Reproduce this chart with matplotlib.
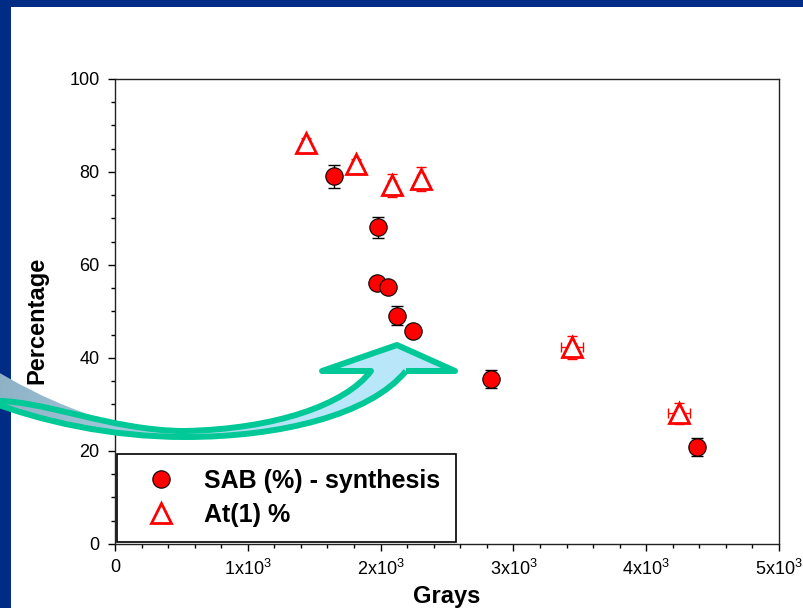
import numpy as np
import matplotlib.pyplot as plt
from matplotlib.path import Path
from matplotlib.patches import PathPatch, Rectangle
from matplotlib.colors import LinearSegmentedColormap
from matplotlib.ticker import MultipleLocator

plt.rcParams['font.family'] = 'Liberation Sans'
plt.rcParams['mathtext.fontset'] = 'custom'
plt.rcParams['mathtext.rm'] = 'Liberation Sans'
plt.rcParams['mathtext.it'] = 'Liberation Sans:italic'
plt.rcParams['mathtext.bf'] = 'Liberation Sans:bold'

# SAB (%) - synthesis
sab_x = [1650, 1980, 1975, 2056, 2126, 2242, 2831, 4385]
sab_y = [79.1, 68.1, 56.2, 55.3, 49.1, 45.8, 35.5, 20.9]
sab_err = [2.5, 2.2, 1.2, 1.2, 2.0, 1.2, 1.95, 1.9]

# At(1) %
at_x = [1438, 1815, 2084, 2304, 3443, 4249]
at_y = [86.3, 81.7, 77.1, 78.5, 42.3, 28.1]
at_yerr = [1.0, 1.0, 2.4, 2.5, 2.5, 2.2]
at_xerr = [30, 30, 30, 30, 82, 82]

xticks = [0, 1000, 2000, 3000, 4000, 5000]
xlabels = ['0', r'1x10$^{3}$', r'2x10$^{3}$', r'3x10$^{3}$', r'4x10$^{3}$', r'5x10$^{3}$']
yticks = [0, 20, 40, 60, 80, 100]

blue = '#002C85'
teal = '#00C896'

fig = plt.figure(figsize=(8.04, 6.08), dpi=100)
fig.set_facecolor('white')

ax = fig.add_axes([0.1430, 0.1053, 0.8259, 0.7648])

ax.errorbar(sab_x, sab_y, yerr=sab_err, fmt='none', ecolor='black',
            elinewidth=1, capsize=4, capthick=1, zorder=2)
ax.plot(sab_x, sab_y, 'o', ms=12.5, mfc='red', mec='black', mew=0.8,
        label='SAB (%) - synthesis', zorder=3)

ax.errorbar(at_x, at_y, yerr=at_yerr, xerr=at_xerr, fmt='none', ecolor='red',
            elinewidth=1, capsize=3.5, capthick=1, zorder=2)
ax.plot(at_x, at_y, '^', ms=14, mfc='white', mec='red', mew=2,
        label='At(1) %', zorder=3)

ax.set_xlim(0, 5000)
ax.set_ylim(0, 100)
ax.set_xticks(xticks)
ax.set_xticklabels(xlabels)
ax.set_yticks(yticks)
ax.xaxis.set_minor_locator(MultipleLocator(200))
ax.yaxis.set_minor_locator(MultipleLocator(5))
ax.tick_params(which='both', direction='out', top=False, right=False,
               labelsize=13, colors='black')
ax.tick_params(which='major', length=5, width=1, pad=6)
ax.tick_params(which='minor', length=3.2, width=1)
for s in ax.spines.values():
    s.set_linewidth(1)
    s.set_color('#222222')

ax.set_xlabel('Grays', fontsize=17, fontweight='bold')
ax.set_ylabel('Percentage', fontsize=17, fontweight='bold')
ax.xaxis.set_label_coords(0.5, -0.088)
ax.yaxis.set_label_coords(-0.101, 0.48)

leg = ax.legend(loc='lower left', bbox_to_anchor=(0.003, 0.004, 0.51, 0.192),
                mode='expand', borderaxespad=0, fancybox=False,
                edgecolor='black', framealpha=1,
                prop={'weight': 'bold', 'size': 18},
                handlelength=2.3, handletextpad=0.58, labelspacing=0.38,
                borderpad=0.62, numpoints=1)
leg.get_frame().set_linewidth(1.2)

# slide decoration + curved arrow, drawn in pixel coords on top
ov = fig.add_axes([0, 0, 1, 1], zorder=5)
ov.set_xlim(0, 804)
ov.set_ylim(608, 0)
ov.axis('off')
ov.patch.set_alpha(0)

ov.add_patch(Rectangle((0, 0), 804, 7, color=blue, lw=0, zorder=1))
ov.add_patch(Rectangle((0, 0), 11, 608, color=blue, lw=0, zorder=1))

verts = [
    (406, 371),
    (370, 415), (280, 437), (185, 437),
    (110, 437), (40, 421), (-12, 401),
    (-12, 366),
    (40, 398), (110, 431), (185, 431),
    (275, 429), (345, 405), (371, 371),
    (322, 371), (397, 345), (455, 371), (406, 371),
]
codes = [Path.MOVETO,
         Path.CURVE4, Path.CURVE4, Path.CURVE4,
         Path.CURVE4, Path.CURVE4, Path.CURVE4,
         Path.LINETO,
         Path.CURVE4, Path.CURVE4, Path.CURVE4,
         Path.CURVE4, Path.CURVE4, Path.CURVE4,
         Path.LINETO, Path.LINETO, Path.LINETO, Path.CLOSEPOLY]
arrow = Path(verts, codes)

fill = PathPatch(arrow, facecolor='none', edgecolor='none', zorder=2)
ov.add_patch(fill)
cmap = LinearSegmentedColormap.from_list('g', ['#8CAFC4', '#A5CDE0', '#B9E7FA', '#B9E7FA'])
grad = np.linspace(0, 1, 256).reshape(1, -1)
img = ov.imshow(grad, cmap=cmap, extent=(-15, 470, 460, 330), aspect='auto', zorder=2)
img.set_clip_path(fill)

ov.add_patch(PathPatch(arrow, facecolor='none', edgecolor=teal, lw=4.3,
                       joinstyle='round', zorder=3))
ov.set_xlim(0, 804)
ov.set_ylim(608, 0)

fig.savefig('out.png', dpi=100)
